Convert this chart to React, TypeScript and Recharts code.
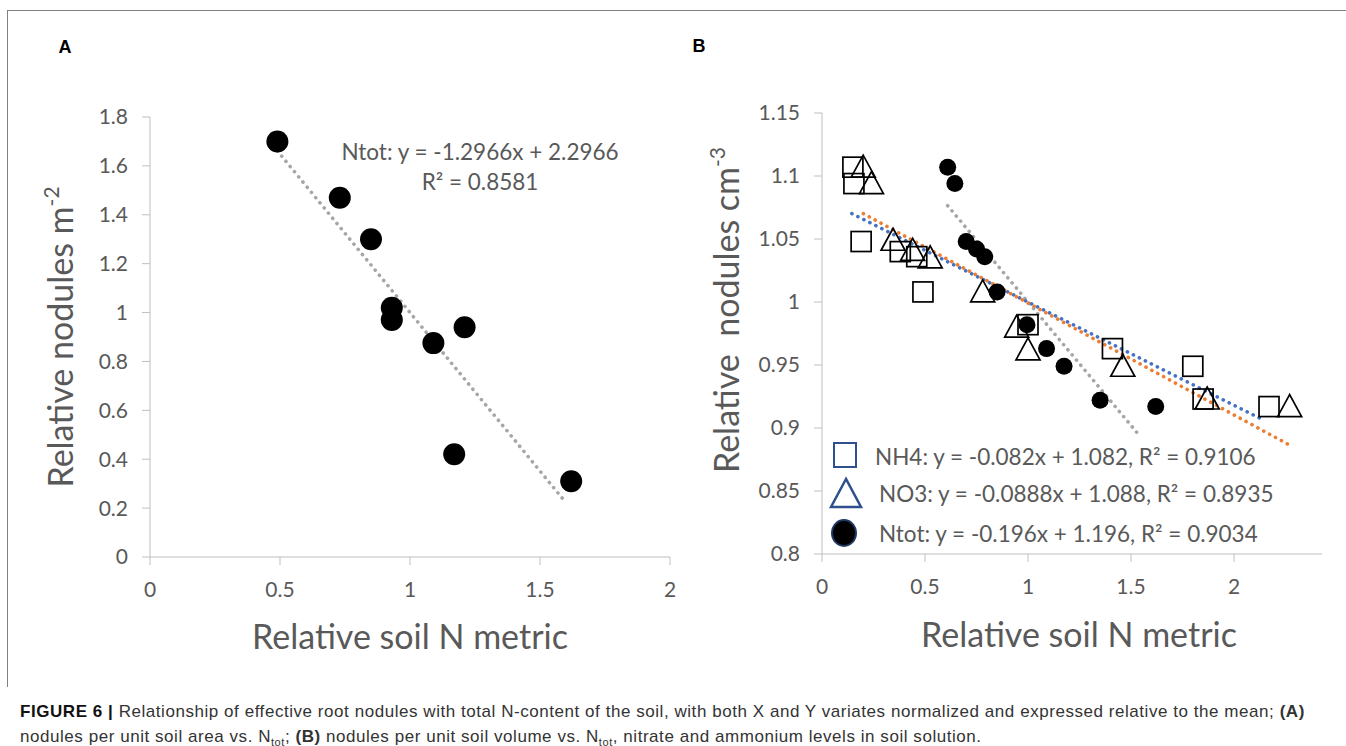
import React from 'react';
import { ReferenceLine, Scatter, ScatterChart, XAxis, YAxis } from 'recharts';

// panel A: nodules per m2 vs relative soil N
const areaX = [0.49, 0.73, 0.85, 0.93, 0.93, 1.09, 1.21, 1.17, 1.62];
const areaY = [1.7, 1.47, 1.3, 1.02, 0.97, 0.875, 0.94, 0.42, 0.31];

// panel B: nodules per cm3 vs NH4, NO3 and total N
const nh4X = [0.15, 0.155, 0.19, 0.38, 0.46, 0.49, 1.0, 1.41, 1.8, 1.85, 2.17];
const nh4Y = [1.107, 1.094, 1.048, 1.04, 1.036, 1.008, 0.982, 0.963, 0.949, 0.923, 0.917];
const no3X = [0.2, 0.24, 0.345, 0.44, 0.525, 0.78, 0.945, 1.0, 1.46, 1.87, 2.27];
const no3Y = [1.107, 1.094, 1.049, 1.041, 1.035, 1.008, 0.98, 0.962, 0.949, 0.923, 0.917];
const ntotX = [0.61, 0.645, 0.7, 0.75, 0.79, 0.85, 0.995, 1.09, 1.175, 1.35, 1.62];
const ntotY = [1.107, 1.094, 1.048, 1.042, 1.036, 1.008, 0.982, 0.963, 0.949, 0.922, 0.917];

// linear fits: [slope, intercept], drawn over [xStart, xEnd]
const fitA = [-1.2966, 2.2966];
const fitARange = [0.49, 1.6];
const fitNH4 = [-0.082, 1.082];
const fitNH4Range = [0.145, 2.13];
const fitNO3 = [-0.0888, 1.088];
const fitNO3Range = [0.185, 2.27];
const fitNtot = [-0.196, 1.196];
const fitNtotRange = [0.61, 1.53];

const ticksAX = [0, 0.5, 1, 1.5, 2];
const ticksAY = [0, 0.2, 0.4, 0.6, 0.8, 1, 1.2, 1.4, 1.6, 1.8];
// axis runs on to 2.5 but the figure is cropped before that label
const ticksBX = [0, 0.5, 1, 1.5, 2];
const ticksBY = [0.8, 0.85, 0.9, 0.95, 1, 1.05, 1.1, 1.15];

const FONT = 'Lato, "Open Sans", sans-serif';
const TEXT = '#595959';
const AXIS = '#BFBFBF';
const tickStyle = { fill: TEXT, fontSize: 21, fontFamily: FONT };

const zip = (xs: number[], ys: number[]) => xs.map((x, i) => ({ x, y: ys[i] }));
const segment = (fit: number[], range: number[]) =>
  range.map((x) => ({ x, y: fit[0] * x + fit[1] }));

const dotted = {
  strokeWidth: 3.6,
  strokeDasharray: '0.1 6.6',
  strokeLinecap: 'round' as const,
};

const BigDot = (p: any) => <circle cx={p.cx} cy={p.cy} r={11} fill="#000" />;
const SmallDot = (p: any) => <circle cx={p.cx} cy={p.cy} r={8.5} fill="#000" />;
const Square = (p: any) => (
  <rect x={p.cx - 10} y={p.cy - 10} width={20} height={20} fill="none" stroke="#000" strokeWidth={1.7} />
);
const Triangle = (p: any) => (
  <polygon
    points={`${p.cx},${p.cy - 12} ${p.cx - 12},${p.cy + 10} ${p.cx + 12},${p.cy + 10}`}
    fill="none"
    stroke="#000"
    strokeWidth={1.7}
  />
);

function PanelA() {
  return (
    <ScatterChart width={700} height={690} margin={{ top: 117, right: 30, bottom: 103, left: 90 }}>
      <XAxis
        type="number"
        dataKey="x"
        domain={[0, 2]}
        ticks={ticksAX}
        height={30}
        stroke={AXIS}
        tickSize={8}
        tickMargin={17}
        tick={tickStyle}
      />
      <YAxis
        type="number"
        dataKey="y"
        domain={[0, 1.8]}
        ticks={ticksAY}
        width={60}
        stroke={AXIS}
        tickSize={8}
        tickMargin={14}
        tick={tickStyle}
      />
      <ReferenceLine segment={segment(fitA, fitARange)} stroke="#A6A6A6" {...dotted} />
      <Scatter data={zip(areaX, areaY)} shape={BigDot} isAnimationActive={false} />
    </ScatterChart>
  );
}

function PanelB() {
  return (
    <ScatterChart width={660} height={690} margin={{ top: 113, right: 23, bottom: 106, left: 62 }}>
      <XAxis
        type="number"
        dataKey="x"
        domain={[0, 2.5]}
        ticks={ticksBX}
        height={30}
        stroke={AXIS}
        tickSize={8}
        tickMargin={17}
        tick={tickStyle}
      />
      <YAxis
        type="number"
        dataKey="y"
        domain={[0.8, 1.15]}
        ticks={ticksBY}
        width={60}
        stroke={AXIS}
        tickSize={8}
        tickMargin={14}
        tick={tickStyle}
      />
      <ReferenceLine segment={segment(fitNtot, fitNtotRange)} stroke="#A6A6A6" {...dotted} />
      <ReferenceLine segment={segment(fitNH4, fitNH4Range)} stroke="#4472C4" {...dotted} />
      <ReferenceLine segment={segment(fitNO3, fitNO3Range)} stroke="#ED7D31" {...dotted} strokeDashoffset={3} />
      <Scatter data={zip(nh4X, nh4Y)} shape={Square} isAnimationActive={false} />
      <Scatter data={zip(no3X, no3Y)} shape={Triangle} isAnimationActive={false} />
      <Scatter data={zip(ntotX, ntotY)} shape={SmallDot} isAnimationActive={false} />
    </ScatterChart>
  );
}

function Overlay() {
  const t = { fill: TEXT, fontFamily: FONT };
  const legendBlue = '#2F4F8F';
  return (
    <svg width={1346} height={690} style={{ position: 'absolute', left: 0, top: 0, pointerEvents: 'none' }}>
      <g fontFamily="'Liberation Sans', Arial, sans-serif" fontWeight="bold" fontSize={18} fill="#000">
        <text x={65} y={53} textAnchor="middle">A</text>
        <text x={699} y={52} textAnchor="middle">B</text>
      </g>

      {/* panel A titles and fit */}
      <text {...t} fontSize={34} textAnchor="middle" transform="translate(73,337) rotate(-90)">
        Relative nodules m<tspan fontSize={21} dy={-14}>-2</tspan>
      </text>
      <text {...t} fontSize={34} x={410} y={649} textAnchor="middle">Relative soil N metric</text>
      <text {...t} fontSize={22.5} x={480} y={160} textAnchor="middle">Ntot: y = -1.2966x + 2.2966</text>
      <text {...t} fontSize={22.5} x={480} y={190} textAnchor="middle">R² = 0.8581</text>

      {/* panel B titles and legend */}
      <text {...t} fontSize={34} textAnchor="middle" transform="translate(739,310) rotate(-90)">
        Relative{'\u00A0'} nodules cm<tspan fontSize={21} dy={-14}>-3</tspan>
      </text>
      <text {...t} fontSize={34} x={1079} y={647} textAnchor="middle">Relative soil N metric</text>

      <rect x={834} y={443} width={22} height={24} fill="none" stroke={legendBlue} strokeWidth={2} />
      <polygon points="846,479 831,507 861,507" fill="none" stroke={legendBlue} strokeWidth={2.5} />
      <ellipse cx={844} cy={533} rx={12} ry={13} fill="#000" stroke="#1F3864" strokeWidth={2} />
      <text {...t} fontSize={22.5} x={875} y={465}>NH4: y = -0.082x + 1.082, R² = 0.9106</text>
      <text {...t} fontSize={22.5} x={879} y={502}>NO3: y = -0.0888x + 1.088, R² = 0.8935</text>
      <text {...t} fontSize={22.5} x={879} y={542}>Ntot: y = -0.196x + 1.196, R² = 0.9034</text>
    </svg>
  );
}

export default function App() {
  return (
    <div style={{ position: 'absolute', left: 0, top: 0, width: 1346, height: 746, background: '#fff' }}>
      <div style={{ position: 'absolute', left: 7, top: 10, width: 1339, height: 1, background: '#808080' }} />
      <div style={{ position: 'absolute', left: 7, top: 10, width: 1, height: 677, background: '#808080' }} />
      <div style={{ position: 'absolute', left: 0, top: 0 }}>
        <PanelA />
      </div>
      <div style={{ position: 'absolute', left: 700, top: 0, width: 622, height: 690, overflow: 'hidden' }}>
        <PanelB />
      </div>
      <Overlay />
      <div
        style={{
          position: 'absolute',
          left: 20,
          top: 699,
          fontFamily: '"Liberation Sans", Arial, sans-serif',
          fontSize: 17,
          letterSpacing: 0.55,
          lineHeight: '25px',
          color: '#333',
          whiteSpace: 'nowrap',
        }}
      >
        <b style={{ color: '#111' }}>FIGURE 6 |</b> Relationship of effective root nodules with total N-content of the
        soil, with both X and Y variates normalized and expressed relative to the mean; <b>(A)</b>
        <br />
        nodules per unit soil area vs. N<sub style={{ fontSize: 11 }}>tot</sub>; <b>(B)</b> nodules per unit soil volume
        vs. N<sub style={{ fontSize: 11 }}>tot</sub>, nitrate and ammonium levels in soil solution.
      </div>
    </div>
  );
}
